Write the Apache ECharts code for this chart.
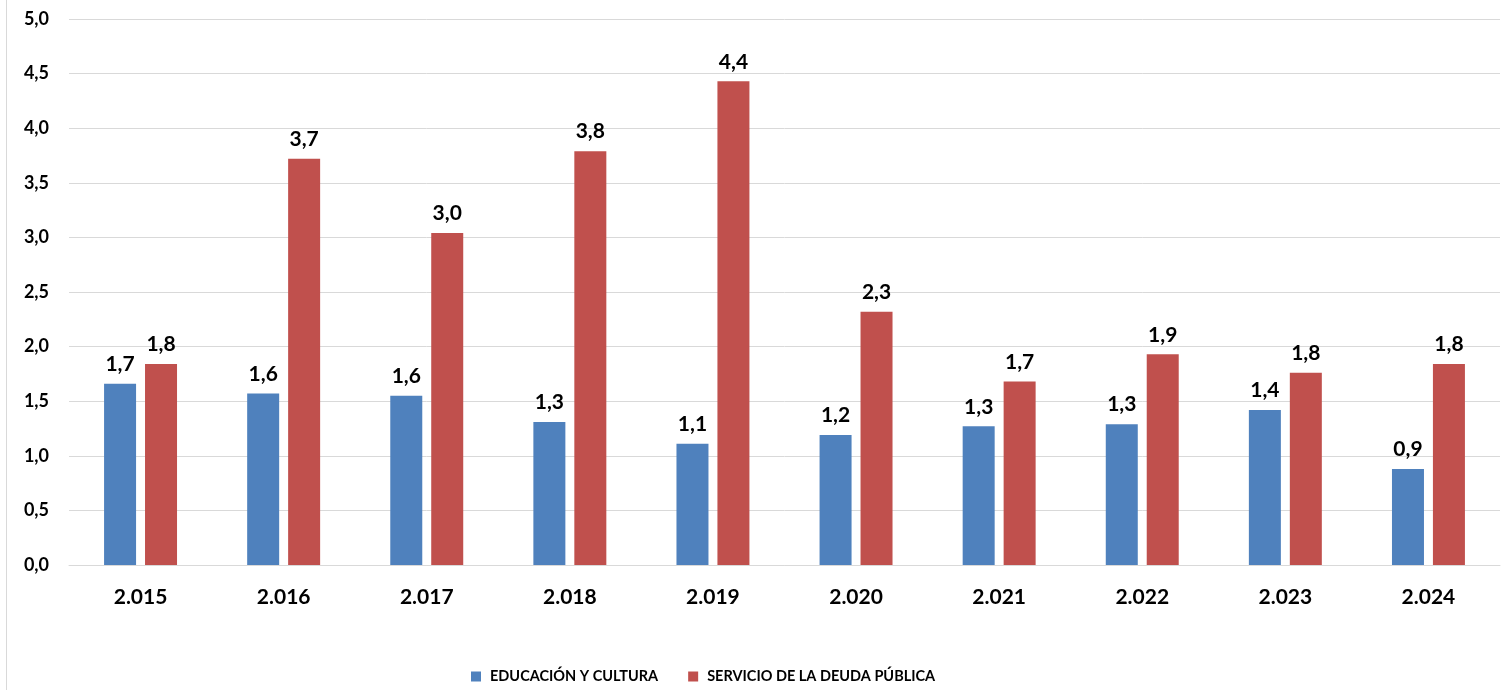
<!DOCTYPE html>
<html><head><meta charset="utf-8">
<script src="https://cdn.jsdelivr.net/npm/echarts@6/dist/echarts.min.js"></script>
<style>html,body{margin:0;padding:0;background:#fff}#c{width:1504px;height:695px}</style>
</head><body><div id="c"></div>
<script>
const categories = ['2.015','2.016','2.017','2.018','2.019','2.020','2.021','2.022','2.023','2.024'];
const educacion = [1.66, 1.57, 1.55, 1.31, 1.11, 1.19, 1.27, 1.29, 1.42, 0.88];
const deuda = [1.84, 3.72, 3.04, 3.79, 4.43, 2.32, 1.68, 1.93, 1.76, 1.84];
const seriesNames = ['EDUCACIÓN Y CULTURA', 'SERVICIO DE LA DEUDA PÚBLICA'];
const fmt = v => v.toFixed(1).replace('.', ',');
const FONT = 'Lato';
const chart = echarts.init(document.getElementById('c'));
const lbl = {show:true, position:'top', distance:9, fontFamily:FONT, fontWeight:'bold', fontSize:21, color:'#000', formatter:p=>fmt(p.value)};
chart.setOption({
  animation:false,
  graphic:[{type:'line', shape:{x1:6.5,y1:0,x2:6.5,y2:690}, style:{stroke:'#d9d9d9', lineWidth:1}}],
  grid:{left:69, right:4, top:19, bottom:130},
  legend:{top:664, left:466, itemWidth:10, itemHeight:10, itemGap:30, icon:'rect',
    textStyle:{fontFamily:FONT, fontWeight:'bold', fontSize:14.5, color:'#000', padding:[0,0,0,4]}, data:seriesNames},
  xAxis:{type:'category', data:categories, axisTick:{show:false},
    axisLine:{lineStyle:{color:'#d9d9d9'}},
    axisLabel:{fontFamily:FONT, fontWeight:'bold', fontSize:21, color:'#000', margin:22}},
  yAxis:{type:'value', min:0, max:5, interval:0.5, axisLine:{show:false}, axisTick:{show:false},
    splitLine:{lineStyle:{color:'#d9d9d9'}},
    axisLabel:{fontFamily:FONT, fontWeight:'bold', fontSize:18, color:'#000', margin:20, formatter:v=>fmt(v)}},
  series:[
    {name:seriesNames[0], type:'bar', data:educacion, barWidth:32, barGap:'28%', itemStyle:{color:'#4F81BD'}, label:lbl},
    {name:seriesNames[1], type:'bar', data:deuda, barWidth:32, itemStyle:{color:'#C0504D'}, label:lbl}
  ]
});
</script></body></html>
